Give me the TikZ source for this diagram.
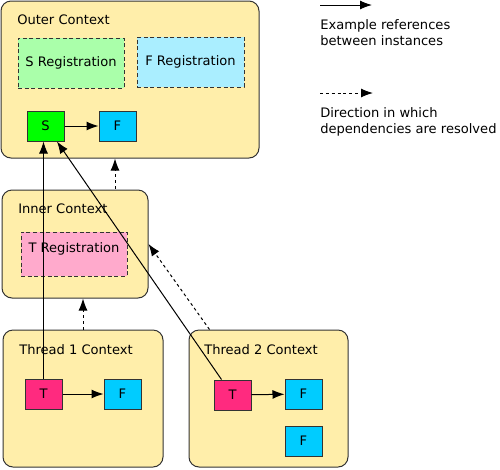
\documentclass[tikz,border=0pt]{standalone}
\usepackage{fontspec}
\setmainfont{DejaVu Sans}
\usetikzlibrary{calc,arrows.meta}

\definecolor{ctxfill}{HTML}{FFEEAA}
\definecolor{sregfill}{HTML}{AAFFAA}
\definecolor{fregfill}{HTML}{AAEEFF}
\definecolor{tregfill}{HTML}{FFAACC}
\definecolor{sfill}{HTML}{00FF00}
\definecolor{ffill}{HTML}{00CCFF}
\definecolor{tfill}{HTML}{FF2A7F}
\definecolor{edge}{HTML}{333333}

\tikzset{
  every node/.style={font=\fontsize{9.8}{12}\selectfont, inner sep=0pt},
  ctx/.style={draw=edge, line width=0.75pt, fill=ctxfill, rounded corners=7.5pt},
  reg/.style={draw=edge, line width=0.6pt, dash pattern=on 3pt off 2pt},
  inst/.style={draw=edge, line width=0.75pt, minimum width=27.75pt, minimum height=22.5pt},
  ref/.style={-{Latex[length=9pt,width=6.75pt]}, line width=0.75pt},
  dep/.style={-{Latex[length=9pt,width=6.75pt]}, line width=0.75pt, dash pattern=on 2.2pt off 2.2pt}
}

\begin{document}
\begin{tikzpicture}[x=0.75pt,y=-0.75pt]
	\useasboundingbox (0,0) rectangle (500,469);

	% Contexts
	\node[ctx, minimum width=193.5pt, minimum height=117.75pt] (Outer) at (130,79.5) {};
	\node[ctx, minimum width=109.5pt, minimum height=81pt] (Inner) at (75,244) {};
	\node[ctx, minimum width=120pt, minimum height=102.75pt] (Thread1) at (83,398.5) {};
	\node[ctx, minimum width=119.25pt, minimum height=102.75pt] (Thread2) at (268.5,398.5) {};

	\node[anchor=base west] at (17,24) {Outer Context};
	\node[anchor=base west] at (18,213) {Inner Context};
	\node[anchor=base west] at (19,354) {Thread 1 Context};
	\node[anchor=base west] at (204,354) {Thread 2 Context};

	% Registrations
	\node[reg, fill=sregfill, minimum width=79.5pt, minimum height=37.5pt] (SReg) at (71,63) {S Registration};
	\node[reg, fill=fregfill, minimum width=80.25pt, minimum height=37.5pt] (FReg) at (190.5,62) {F Registration};
	\node[reg, fill=tregfill, minimum width=79.5pt, minimum height=33pt] (TReg) at (74,254) {};
	\node at ($(TReg)+(0,-5)$) {T Registration};

	% Instances
	\node[inst, fill=sfill] (S) at (45.5,126) {S};
	\node[inst, fill=ffill] (F) at (117.5,126) {F};
	\node[inst, fill=tfill] (T1) at (43.5,394) {T};
	\node[inst, fill=ffill] (F1) at (122.5,394) {F};
	\node[inst, fill=tfill] (T2) at (232.5,395) {T};
	\node[inst, fill=ffill] (F2) at (303.5,394) {F};
	\node[inst, fill=ffill] (F3) at (303.5,441) {F};

	% References
	\draw[ref] (S) -- (F);
	\draw[ref] (T1) -- (F1);
	\draw[ref] (T2) -- (F2);
	\draw[ref] (T1.north) -- (T1.north |- S.south);
	\draw[ref] ($(T2.north west)+(8,0)$) -- ($(S.south)+(11.5,0)$);

	% Resolution direction
	\coordinate (d1) at ($(Inner.north)+(40,-1)$);
	\draw[dep] (d1) -- (d1 |- Outer.south);
	\draw[dep] (Thread1.north) -- (Thread1.north |- Inner.south);
	\draw[dep] ($(Thread2.north west)+(21,0)$) -- (Inner.east);

	% Legend
	\coordinate (l1) at (320,5);
	\coordinate (l2) at (372,5);
	\draw[ref] (l1) -- (l2);
	\node[anchor=base west, align=left] at (320,45) {Example references\\between instances};
	\coordinate (l3) at (320,93);
	\coordinate (l4) at (373,93);
	\draw[dep] (l3) -- (l4);
	\node[anchor=base west, align=left] at (320,133) {Direction in which\\dependencies are resolved};
\end{tikzpicture}
\end{document}
